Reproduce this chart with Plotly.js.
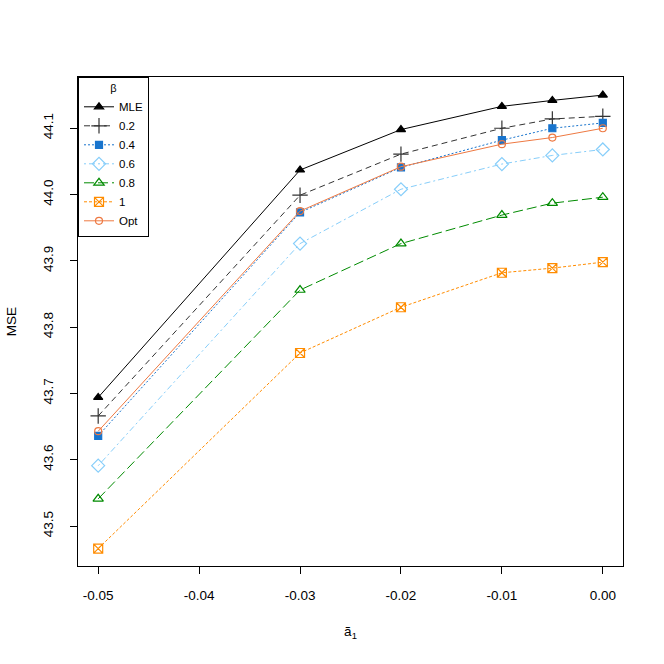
<!DOCTYPE html>
<html>
<head>
<meta charset="utf-8">
<script src="https://cdn.plot.ly/plotly-3.0.1.min.js"></script>
<style>html,body{margin:0;padding:0;background:#fff}#chart{width:664px;height:664px}</style>
</head>
<body>
<div id="chart"></div>
<script>
const a1 = [-0.05, -0.03, -0.02, -0.01, -0.005, 0.00];
const seriesNames = ["MLE", "0.2", "0.4", "0.6", "0.8", "1", "Opt"];
const mle  = [43.694, 44.037, 44.098, 44.133, 44.142, 44.150];
const b02  = [43.666, 43.999, 44.061, 44.100, 44.114, 44.118];
const b04  = [43.636, 43.973, 44.041, 44.082, 44.100, 44.108];
const b06  = [43.591, 43.926, 44.008, 44.046, 44.059, 44.068];
const b08  = [43.541, 43.856, 43.926, 43.969, 43.987, 43.996];
const b1   = [43.466, 43.761, 43.830, 43.882, 43.889, 43.898];
const opt  = [43.643, 43.975, 44.042, 44.076, 44.086, 44.100];
const xTicks = [-0.05, -0.04, -0.03, -0.02, -0.01, 0.00];
const xTickText = ["-0.05", "-0.04", "-0.03", "-0.02", "-0.01", "0.00"];
const yTicks = [43.5, 43.6, 43.7, 43.8, 43.9, 44.0, 44.1];
const yTickText = ["43.5", "43.6", "43.7", "43.8", "43.9", "44.0", "44.1"];

const values = [mle, b02, b04, b06, b08, b1, opt];
const styles = [
  {color: "#000000", dash: "solid", symbol: "triangle-up", size: 8},
  {color: "#333333", dash: "6px,4px", symbol: "cross-thin-open", size: 11},
  {color: "#1874CD", dash: "2px,2px", symbol: "square", size: 7},
  {color: "#87CEFA", dash: "2px,3px,6px,3px", symbol: "diamond-open", size: 10},
  {color: "#008B00", dash: "10px,4px", symbol: "triangle-up-open", size: 9},
  {color: "#FF8C00", dash: "3px,2px", symbol: "square-x-open", size: 9},
  {color: "#EE7942", dash: "solid", symbol: "circle-open", size: 7}
];

const traces = seriesNames.map((n, i) => ({
  x: a1, y: values[i], name: n, type: "scatter", mode: "lines+markers",
  line: {color: styles[i].color, width: 1, dash: styles[i].dash},
  marker: {color: styles[i].color, symbol: styles[i].symbol, size: styles[i].size,
           line: {color: styles[i].color, width: 1.2}}
}));

const font = {family: "Liberation Sans, Arial, sans-serif", size: 13.5, color: "#000"};
const layout = {
  width: 664, height: 664,
  margin: {l: 78, r: 41, t: 77, b: 98},
  paper_bgcolor: "#fff", plot_bgcolor: "#fff",
  font: font,
  showlegend: true,
  legend: {
    x: 0, y: 1, xanchor: "left", yanchor: "top",
    bgcolor: "#fff", bordercolor: "#000", borderwidth: 1,
    font: {family: "Liberation Sans, Arial, sans-serif", size: 11.5, color: "#000"},
    title: {text: "β", side: "top center", font: {size: 11, color: "#000"}},
    tracegroupgap: 0, itemwidth: 30
  },
  xaxis: {
    range: [-0.052, 0.002], tickvals: xTicks, ticktext: xTickText,
    showgrid: false, zeroline: false, showline: true, mirror: true,
    linecolor: "#000", linewidth: 1, ticks: "outside", ticklen: 7, tickcolor: "#000",
    tickfont: font, ticklabelstandoff: 10,
    title: {text: "ã<sub>1</sub>", font: font, standoff: 24}
  },
  yaxis: {
    range: [43.4397, 44.1773], tickvals: yTicks, ticktext: yTickText,
    showgrid: false, zeroline: false, showline: true, mirror: true,
    linecolor: "#000", linewidth: 1, ticks: "outside", ticklen: 7, tickcolor: "#000",
    tickfont: font, tickangle: -90, ticklabelstandoff: 12,
    title: {text: "MSE", font: font, standoff: 20}
  }
};
Plotly.newPlot("chart", traces, layout, {displayModeBar: false, staticPlot: true});
</script>
</body>
</html>
